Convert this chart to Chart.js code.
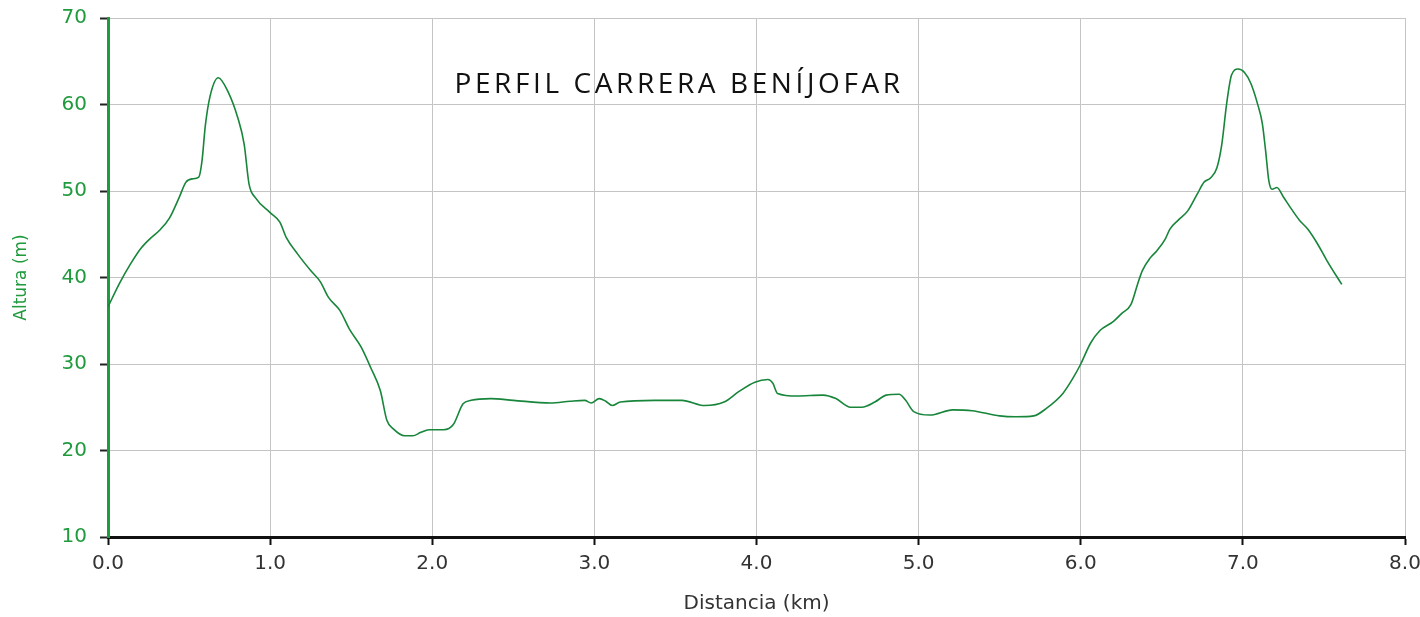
<!DOCTYPE html>
<html>
<head>
<meta charset="utf-8">
<script src="https://cdn.jsdelivr.net/npm/chart.js@4/dist/chart.umd.min.js"></script>
<style>
  html, body { margin: 0; padding: 0; background: #fff; }
  #wrap { width: 1420px; height: 617px; position: relative; }
</style>
</head>
<body>
<div id="wrap"><canvas id="c" width="1420" height="617"></canvas></div>
<script>
const chartTitle = "PERFIL CARRERA BENÍJOFAR";
const xAxisTitle = "Distancia (km)";
const yAxisTitle = "Altura (m)";
const xTicks = [0, 1, 2, 3, 4, 5, 6, 7, 8];
const yTicks = [10, 20, 30, 40, 50, 60, 70];

const distanceKm = [
  0.00, 0.07, 0.14, 0.20, 0.26, 0.32, 0.38, 0.44, 0.48, 0.52, 0.56, 0.58, 0.60, 0.63, 0.68, 0.74, 0.80, 0.84, 0.87, 0.91,
  1.00, 1.06, 1.10, 1.17, 1.25, 1.31, 1.36, 1.43, 1.49, 1.56, 1.62, 1.68, 1.72, 1.76, 1.83, 1.88, 1.93, 1.98,
  2.07, 2.13, 2.19, 2.24, 2.36, 2.50, 2.73, 2.85, 2.94, 2.98,
  3.03, 3.07, 3.11, 3.16, 3.37, 3.54, 3.68, 3.80, 3.89, 3.99,
  4.07, 4.10, 4.13, 4.25, 4.41, 4.49, 4.58, 4.65, 4.73, 4.80, 4.88, 4.92, 4.97,
  5.07, 5.21, 5.33, 5.50, 5.60, 5.71, 5.79, 5.89, 5.95,
  6.00, 6.06, 6.12, 6.20, 6.25, 6.31, 6.35, 6.38, 6.43, 6.47, 6.52, 6.55, 6.60, 6.66, 6.72, 6.76, 6.80, 6.84, 6.87, 6.90, 6.93, 6.97,
  7.01, 7.05, 7.09, 7.12, 7.14, 7.16, 7.18, 7.21, 7.25, 7.30, 7.35, 7.40, 7.46, 7.52, 7.61
];
const altitudeM = [
  36.6, 39.3, 41.6, 43.3, 44.5, 45.5, 46.9, 49.3, 51.0, 51.4, 51.6, 53.5, 57.5, 61.0, 63.1, 61.5, 58.5, 55.4, 50.8, 49.2,
  47.5, 46.4, 44.6, 42.7, 40.8, 39.5, 37.7, 36.2, 34.0, 32.0, 29.6, 26.9, 23.5, 22.5, 21.7, 21.7, 22.1, 22.4,
  22.4, 23.0, 25.4, 25.8, 26.0, 25.8, 25.5, 25.7, 25.8, 25.5,
  26.0, 25.7, 25.2, 25.6, 25.8, 25.8, 25.2, 25.6, 26.8, 27.9,
  28.2, 27.8, 26.6, 26.3, 26.4, 26.0, 25.0, 25.0, 25.6, 26.4, 26.5, 25.8, 24.5,
  24.1, 24.7, 24.6, 24.0, 23.9, 24.0, 24.9, 26.6, 28.3,
  30.0, 32.4, 33.9, 34.9, 35.8, 36.9, 39.2, 40.8, 42.3, 43.1, 44.4, 45.6, 46.6, 47.7, 49.7, 51.0, 51.5, 52.7, 55.4, 60.1, 63.4, 64.1,
  63.7, 62.4, 60.1, 57.8, 54.7, 51.2, 50.2, 50.4, 49.3, 47.9, 46.6, 45.6, 43.9, 41.9, 39.2
];

const points = distanceKm.map((d, i) => ({ x: d, y: altitudeM[i] }));

const GREEN = '#1f9a3c';
const LINE_GREEN = '#17853a';
const FONT = "'DejaVu Sans', Verdana, sans-serif";

const innerTitle = {
  id: 'innerTitle',
  afterDraw(chart) {
    const ctx = chart.ctx;
    const area = chart.chartArea;
    ctx.save();
    ctx.font = "400 28px 'Open Sans', sans-serif";
    if ('letterSpacing' in ctx) ctx.letterSpacing = '3.6px';
    ctx.fillStyle = '#111';
    ctx.textAlign = 'center';
    ctx.textBaseline = 'middle';
    ctx.fillText(chartTitle, area.left + (area.right - area.left) * 0.4403, area.top + 67);
    ctx.restore();
  }
};

new Chart(document.getElementById('c'), {
  type: 'line',
  data: {
    datasets: [{
      data: points,
      borderColor: LINE_GREEN,
      borderWidth: 1.6,
      pointRadius: 0,
      fill: false,
      tension: 0.4,
      cubicInterpolationMode: 'monotone'
    }]
  },
  options: {
    responsive: false,
    animation: false,
    events: [],
    layout: { padding: { top: 18, right: 15, left: 0, bottom: 0 } },
    plugins: { legend: { display: false }, tooltip: { enabled: false }, title: { display: false } },
    scales: {
      x: {
        type: 'linear',
        min: 0, max: 8,
        afterBuildTicks(axis) { axis.ticks = xTicks.map(v => ({ value: v })); },
        afterFit(axis) { axis.height = 80; axis.paddingLeft = 0; axis.paddingRight = 0; },
        border: { color: '#111', width: 3 },
        grid: { color: '#c4c4c4', lineWidth: 1, tickLength: 8, tickColor: '#111', tickWidth: 2 },
        ticks: {
          color: '#333',
          font: { family: FONT, size: 20 },
          padding: 7,
          callback: v => Number(v).toFixed(1),
          maxRotation: 0
        },
        title: {
          display: true, text: xAxisTitle, color: '#333',
          font: { family: FONT, size: 20 }, padding: { top: 0, bottom: 1 }
        }
      },
      y: {
        type: 'linear',
        min: 10, max: 70,
        afterBuildTicks(axis) { axis.ticks = yTicks.map(v => ({ value: v })); },
        afterFit(axis) { axis.width = 108; axis.paddingTop = 0; axis.paddingBottom = 0; },
        border: { color: GREEN, width: 3 },
        grid: { color: '#c4c4c4', lineWidth: 1, tickLength: 8, tickColor: '#222', tickWidth: 2 },
        ticks: {
          color: GREEN,
          font: { family: FONT, size: 20 },
          padding: 13
        },
        title: {
          display: true, text: yAxisTitle, color: GREEN,
          font: { family: FONT, size: 17 }, padding: { top: 11, bottom: 0 }
        }
      }
    }
  },
  plugins: [innerTitle]
});
</script>
</body>
</html>
